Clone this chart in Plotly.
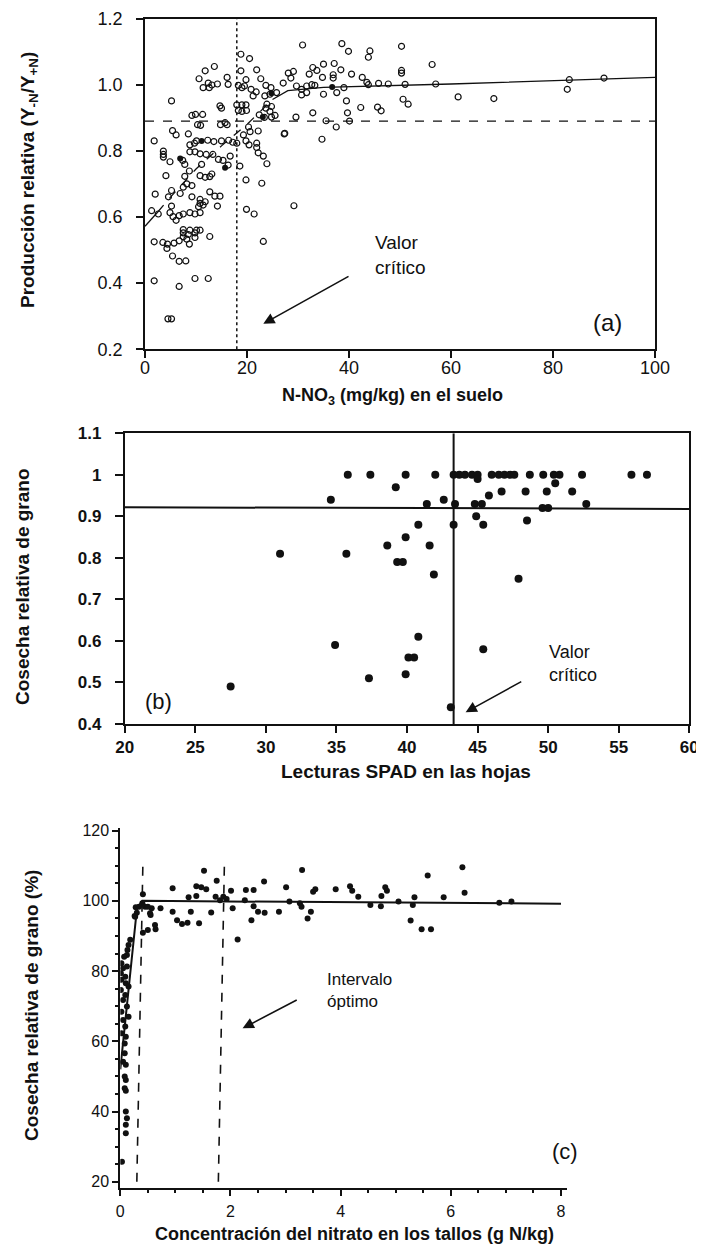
import plotly.graph_objects as go

# ---------------- Panel (a) data ----------------
a_open_x = [30.9, 38.6, 39.9, 44.1, 43.8, 50.3, 50.3, 50.3, 56.3, 35.0, 37.1, 32.9, 33.7, 32.2, 34.8, 36.9, 36.9, 38.4,
            40.5, 42.6, 32.7, 33.3, 39.0, 43.5, 43.8, 45.8, 47.7, 51.0, 57.0, 30.7, 31.7, 35.0, 37.6, 39.5, 42.3, 45.6,
            46.3, 50.6, 51.6, 61.4, 68.4, 32.9, 39.7, 35.5, 40.1, 37.5, 83.2, 82.8, 90.0, 34.7, 27.4, 29.2, 23.2, 22.9,
            19.9, 21.4, 23.9,
            18.8, 20.5, 13.6, 11.8, 18.8, 21.9, 10.6, 16.1, 19.8, 22.7, 12.4, 13.1, 14.2, 11.4, 12.6, 16.3, 18.3, 19.0,
            19.5, 20.8, 21.2, 21.8, 23.7, 24.7, 25.8, 24.5, 23.5, 27.1, 28.1, 29.1, 28.6, 29.7, 30.7, 31.7, 5.2, 14.7,
            15.0, 18.0, 19.0, 19.8, 18.3, 19.0, 19.9, 23.9, 24.8, 23.7, 24.5, 25.5, 22.4, 23.4, 24.8, 29.6, 27.3, 9.2,
            9.9, 11.3, 15.7, 16.1, 14.8, 10.3, 10.9, 20.3, 20.6, 19.3, 22.2, 5.4, 6.1, 8.5, 1.8, 10.1, 12.3, 13.5,
            15.0, 16.4, 17.2, 8.8, 9.7, 18.0, 19.8, 20.4, 21.9,
            3.6, 3.6, 3.6, 4.9, 8.8, 9.8, 10.8, 12.0, 13.3, 14.4, 15.3, 16.7, 7.4, 7.8, 16.3, 21.9, 22.2, 23.2, 18.6,
            11.1, 4.1, 7.8, 8.7, 10.8, 11.8, 12.7, 13.1, 19.8, 8.2, 7.5, 9.2, 6.9, 5.2, 4.6, 2.0, 9.2, 10.8, 11.8,
            12.7, 13.7, 14.7, 14.2, 10.8, 11.4, 10.5, 8.8, 9.8, 10.8, 7.5, 6.7, 5.5, 6.1, 4.9, 5.2, 1.3, 2.6, 7.5,
            7.5, 8.8, 10.1, 10.8, 9.8, 8.5, 9.8, 7.5, 12.7, 1.8, 3.5, 4.4, 5.7, 6.7, 8.2, 8.7, 4.3, 5.4, 6.7, 8.0,
            1.8, 9.8, 12.4, 6.7, 4.5, 5.2]
a_open_y = [1.120, 1.124, 1.101, 1.102, 1.083, 1.116, 1.043, 1.035, 1.061, 1.062, 1.064, 1.052, 1.043, 1.032, 1.022,
            1.030, 1.020, 1.045, 1.032, 1.022, 1.000, 0.998, 0.991, 1.007, 1.000, 1.004, 1.002, 1.001, 1.002, 0.969,
            0.976, 0.971, 0.976, 0.951, 0.931, 0.932, 0.921, 0.956, 0.941, 0.963, 0.958, 0.915, 0.915, 0.891, 0.890,
            0.872, 1.015, 0.986, 1.020, 0.835, 0.853, 0.634, 0.526, 0.702, 0.623, 0.609, 0.761,
            1.092, 1.079, 1.055, 1.042, 1.042, 1.045, 1.018, 1.022, 1.015, 1.018, 1.005, 0.999, 1.002, 0.991, 0.991,
            1.001, 0.998, 0.991, 0.996, 0.986, 0.966, 0.978, 0.998, 0.991, 0.976, 0.971, 0.966, 1.005, 1.035, 1.040,
            1.020, 0.996, 0.986, 0.996, 0.951, 0.936, 0.929, 0.939, 0.939, 0.939, 0.922, 0.919, 0.922, 0.941, 0.934,
            0.929, 0.919, 0.907, 0.909, 0.901, 0.902, 0.902, 0.851, 0.907, 0.910, 0.910, 0.885, 0.879, 0.879, 0.879,
            0.877, 0.872, 0.858, 0.848, 0.860, 0.861, 0.848, 0.851, 0.830, 0.830, 0.832, 0.828, 0.830, 0.832, 0.826,
            0.818, 0.823, 0.823, 0.830, 0.818, 0.823,
            0.799, 0.789, 0.781, 0.767, 0.797, 0.797, 0.791, 0.789, 0.789, 0.774, 0.771, 0.784, 0.771, 0.759, 0.757,
            0.810, 0.794, 0.784, 0.754, 0.759, 0.725, 0.723, 0.739, 0.725, 0.720, 0.722, 0.730, 0.712, 0.700, 0.690,
            0.695, 0.671, 0.680, 0.661, 0.669, 0.661, 0.653, 0.646, 0.676, 0.663, 0.663, 0.633, 0.641, 0.636, 0.631,
            0.613, 0.609, 0.613, 0.609, 0.604, 0.601, 0.590, 0.613, 0.633, 0.619, 0.609, 0.562, 0.552, 0.560, 0.560,
            0.560, 0.552, 0.547, 0.538, 0.540, 0.541, 0.525, 0.523, 0.518, 0.521, 0.528, 0.533, 0.518, 0.505, 0.482,
            0.466, 0.467, 0.407, 0.414, 0.414, 0.390, 0.292, 0.292]
a_fill_x = [6.9, 11.1, 15.7, 23.1, 24.8, 36.7]
a_fill_y = [0.777, 0.830, 0.749, 0.902, 0.974, 0.993]
a_fit1_x = [0, 2.5]
a_fit1_y = [0.572, 0.615]
a_fit2_x = [2.5, 5, 10, 15, 20, 25]
a_fit2_y = [0.615, 0.66, 0.745, 0.815, 0.88, 0.955]
a_fit3_x = [25, 28, 35, 60, 100]
a_fit3_y = [0.955, 0.982, 0.992, 1.002, 1.022]
a_crit_x = 18.0
a_crit_y = 0.89

# ---------------- Panel (b) data ----------------
b_x = [27.5, 31.0, 34.6, 35.8, 37.4, 34.9, 35.7, 37.3, 38.6, 39.2, 39.3, 39.7, 39.9, 39.9, 39.9, 40.1, 40.5, 40.8,
       40.8, 41.4, 41.6, 41.9, 42.0, 42.6, 43.1, 43.3, 43.4, 43.3, 43.7, 44.1, 44.6, 45.0, 45.0, 44.8, 45.3, 44.9,
       45.4, 45.4, 45.8, 46.0, 46.5, 46.9, 47.3, 47.6, 46.7, 47.9, 48.4, 48.5, 48.7, 49.65, 49.6, 50.0, 49.9, 50.4,
       50.8, 50.5, 51.7, 52.4, 52.7, 55.9, 57.0]
b_y = [0.49, 0.81, 0.94, 1.0, 1.0, 0.59, 0.81, 0.51, 0.83, 0.97, 0.79, 0.79, 1.0, 0.85, 0.52, 0.56, 0.56, 0.88,
       0.61, 0.93, 0.83, 0.76, 1.0, 0.94, 0.44, 0.88, 0.93, 1.0, 1.0, 1.0, 1.0, 1.0, 0.99, 0.93, 0.93, 0.90,
       0.88, 0.58, 0.95, 1.0, 1.0, 1.0, 1.0, 1.0, 0.96, 0.75, 0.96, 0.89, 1.0, 1.0, 0.92, 0.92, 0.96, 1.0,
       1.0, 0.98, 0.96, 1.0, 0.93, 1.0, 1.0]
b_hline_x = [20, 60]
b_hline_y = [0.922, 0.918]
b_crit_x = 43.3

# ---------------- Panel (c) data ----------------
c_x = [0.41, 0.40, 0.34, 0.45, 0.57, 0.55, 0.41, 0.50, 0.63, 0.64, 0.73, 0.95, 0.95, 1.03, 1.12, 1.22, 1.28, 1.24,
       1.38, 1.38, 1.43, 1.52, 1.56, 1.47, 1.65, 1.75, 1.73, 1.81, 1.87, 1.93, 2.01, 2.04, 2.13, 2.26, 2.28, 2.42,
       2.38, 2.42, 2.50, 2.62, 2.61, 2.88, 3.01, 3.07, 3.26, 3.29, 3.30, 3.40, 3.46, 3.50, 3.54, 3.91, 4.17, 4.21,
       4.32, 4.54, 4.73, 4.74, 4.81, 4.84, 5.05, 5.27, 5.31, 5.34, 5.47, 5.64, 5.58, 5.87, 6.21, 6.25, 6.88, 7.10,
       0.50, 0.54, 0.28, 0.30, 0.27, 0.26, 0.18, 0.15, 0.13, 0.12, 0.07, 0.02, 0.05, 0.12, 0.01, 0.09,
       0.02, 0.10, 0.15, 0.01, 0.09, 0.05, 0.12, 0.02, 0.15, 0.05, 0.09, 0.02, 0.10, 0.08, 0.08, 0.05, 0.10,
       0.08, 0.10, 0.08, 0.10, 0.10, 0.12, 0.10, 0.10, 0.03]
c_y = [101.9, 99.3, 98.3, 98.3, 97.9, 96.0, 90.9, 91.7, 93.1, 91.9, 97.9, 103.6, 96.9, 94.5, 93.4, 93.8, 96.9, 101.0,
       101.4, 104.2, 93.6, 108.6, 103.3, 103.9, 96.7, 105.7, 101.2, 100.2, 101.2, 100.5, 102.9, 97.9, 89.0, 100.2,
       103.1, 103.1, 94.5, 98.5, 96.9, 96.6, 105.5, 96.9, 103.9, 99.8, 99.3, 98.3, 108.8, 95.0, 96.9, 102.6, 103.3,
       103.3, 104.2, 102.9, 101.2, 98.8, 98.5, 101.4, 103.9, 102.9, 99.8, 94.4, 98.8, 101.0, 91.9, 91.9, 107.2,
       101.0, 109.6, 102.3, 99.5, 99.8,
       98.3, 96.5, 98.2, 96.6, 95.5, 95.7, 88.9, 87.4, 86.0, 84.6, 84.1, 82.2, 80.8, 81.3, 79.4, 78.4,
       77.5, 76.5, 75.6, 74.6, 73.2, 71.8, 69.9, 68.4, 67.0, 66.1, 64.2, 62.3, 61.3, 59.4, 56.6, 54.2, 53.3,
       50.0, 49.0, 46.6, 45.9, 40.0, 38.1, 36.2, 33.8, 25.7]
c_fit_x = [0, 0.3, 0.4, 8.0]
c_fit_y = [52, 97.5, 100, 99.2]
c_low_x = [0.30, 0.41]
c_high_x = [1.78, 1.89]
c_dash_y = [20, 110.7]

INK = "#111111"
SANS = "Liberation Sans, Arial, Helvetica, sans-serif"
NARROW = "Liberation Sans Narrow, Arial Narrow, Liberation Sans, sans-serif"

# The page body has an 8 px margin; the figure fills the rest of the window.
OFF = 8
W, H = 704 - OFF, 1247 - OFF


def px(xp):
    return (xp - OFF) / W


def py(yp):
    return 1 - (yp - OFF) / H


fig = go.Figure()

# Panel (a)
fig.add_trace(go.Scatter(x=a_open_x, y=a_open_y, mode="markers", xaxis="x", yaxis="y",
                         marker=dict(symbol="circle-open", size=6, color=INK, line=dict(width=1.2, color=INK)),
                         showlegend=False))
fig.add_trace(go.Scatter(x=a_fill_x, y=a_fill_y, mode="markers", xaxis="x", yaxis="y",
                         marker=dict(symbol="circle", size=6, color=INK), showlegend=False))
fig.add_trace(go.Scatter(x=a_fit1_x, y=a_fit1_y, mode="lines", xaxis="x", yaxis="y",
                         line=dict(color=INK, width=1.3), showlegend=False))
fig.add_trace(go.Scatter(x=a_fit2_x, y=a_fit2_y, mode="lines", xaxis="x", yaxis="y",
                         line=dict(color=INK, width=1.3, dash="dash"), showlegend=False))
fig.add_trace(go.Scatter(x=a_fit3_x, y=a_fit3_y, mode="lines", xaxis="x", yaxis="y",
                         line=dict(color=INK, width=1.3), showlegend=False))
fig.add_trace(go.Scatter(x=[a_crit_x, a_crit_x], y=[0.2, 1.2], mode="lines", xaxis="x", yaxis="y",
                         line=dict(color=INK, width=1.5, dash="dot"), showlegend=False))
fig.add_trace(go.Scatter(x=[0, 100], y=[a_crit_y, a_crit_y], mode="lines", xaxis="x", yaxis="y",
                         line=dict(color=INK, width=1.3, dash="dash"), showlegend=False))

# Panel (b)
fig.add_trace(go.Scatter(x=b_x, y=b_y, mode="markers", xaxis="x2", yaxis="y2",
                         marker=dict(symbol="circle", size=8, color=INK), showlegend=False))
fig.add_trace(go.Scatter(x=b_hline_x, y=b_hline_y, mode="lines", xaxis="x2", yaxis="y2",
                         line=dict(color=INK, width=2), showlegend=False))
fig.add_trace(go.Scatter(x=[b_crit_x, b_crit_x], y=[0.4, 1.1], mode="lines", xaxis="x2", yaxis="y2",
                         line=dict(color=INK, width=2), showlegend=False))

# Panel (c)
fig.add_trace(go.Scatter(x=c_x, y=c_y, mode="markers", xaxis="x3", yaxis="y3",
                         marker=dict(symbol="circle", size=6, color=INK), showlegend=False))
fig.add_trace(go.Scatter(x=c_fit_x, y=c_fit_y, mode="lines", xaxis="x3", yaxis="y3",
                         line=dict(color=INK, width=2), showlegend=False))
fig.add_trace(go.Scatter(x=c_low_x, y=c_dash_y, mode="lines", xaxis="x3", yaxis="y3",
                         line=dict(color=INK, width=1.6, dash="dash"), showlegend=False))
fig.add_trace(go.Scatter(x=c_high_x, y=c_dash_y, mode="lines", xaxis="x3", yaxis="y3",
                         line=dict(color=INK, width=1.6, dash="dash"), showlegend=False))


def ax_common(**kw):
    d = dict(showgrid=False, zeroline=False, showline=True, linecolor=INK, ticks="outside",
             tickcolor=INK, color=INK, automargin=False, ticklabeloverflow="allow")
    d.update(kw)
    return d


fig.update_layout(
    width=W, height=H, margin=dict(l=0, r=0, t=0, b=0, autoexpand=False),
    paper_bgcolor="white", plot_bgcolor="white",
    xaxis=ax_common(domain=[px(145), px(655)], range=[0, 100], tickvals=[0, 20, 40, 60, 80, 100],
                    mirror=True, linewidth=1.6, ticklen=7, tickwidth=1.5, ticklabelstandoff=-6,
                    tickfont=dict(family=SANS, size=18, color=INK), anchor="y"),
    yaxis=ax_common(domain=[py(349.3), py(18.5)], range=[0.1999, 1.2001],
                    tickvals=[0.2, 0.4, 0.6, 0.8, 1.0, 1.2], ticktext=["0.2", "0.4", "0.6", "0.8", "1.0", "1.2"],
                    mirror=True, linewidth=1.6, ticklen=7, tickwidth=1.5, ticklabelstandoff=10,
                    tickfont=dict(family=SANS, size=18, color=INK), anchor="x"),
    xaxis2=ax_common(domain=[px(124.8), px(689.3)], range=[20, 60], tickvals=[20, 25, 30, 35, 40, 45, 50, 55, 60],
                     mirror=True, linewidth=2, ticklen=7, tickwidth=1.5, ticklabelstandoff=0,
                     tickfont=dict(family=SANS, size=17, color=INK, weight="bold"), anchor="y2"),
    yaxis2=ax_common(domain=[py(724), py(433.3)], range=[0.3999, 1.1001],
                     tickvals=[0.4, 0.5, 0.6, 0.7, 0.8, 0.9, 1.0, 1.1],
                     ticktext=["0.4", "0.5", "0.6", "0.7", "0.8", "0.9", "1", "1.1"],
                     mirror=True, linewidth=2, ticklen=8, tickwidth=1.5, ticklabelstandoff=10,
                     tickfont=dict(family=SANS, size=17, color=INK, weight="bold"), anchor="x2"),
    xaxis3=ax_common(domain=[px(120.3), px(566.5)], range=[0, 8.1], tickvals=[0, 2, 4, 6, 8],
                     linewidth=2, ticklen=6, tickwidth=1.5, ticklabelstandoff=2,
                     minor=dict(dtick=0.5, ticks="outside", ticklen=3, tickcolor=INK),
                     tickfont=dict(family=SANS, size=16, color=INK), anchor="y3"),
    yaxis3=ax_common(domain=[py(1187.7), py(828.2)], range=[18.3, 120.7],
                     tickvals=[20, 40, 60, 80, 100, 120], linewidth=2, ticklen=6, tickwidth=1.5,
                     minor=dict(dtick=5, ticks="outside", ticklen=3, tickcolor=INK),
                     tickfont=dict(family=SANS, size=16, color=INK), anchor="x3"),
)


def note(text, x, y, size, family=SANS, angle=0, xref="paper", yref="paper", xanchor="center", align="center"):
    return dict(text=text, x=x, y=y, xref=xref, yref=yref, showarrow=False, textangle=angle,
                xanchor=xanchor, yanchor="middle", align=align, font=dict(family=family, size=size, color=INK))


ann = []
# Axis titles
ann.append(note("<b>N-NO<sub>3</sub> (mg/kg) en el suelo</b>", px(393), py(397), 18))
ann.append(note("<b>Producción relativa (Y<sub>-N</sub>/Y<sub>+N</sub>)</b>", px(29), py(180), 19,
                family=NARROW, angle=-90))
ann.append(note("<b>Lecturas SPAD en las hojas</b>", px(406), py(771), 19))
ann.append(note("<b>Cosecha relativa de grano</b>", px(22), py(587), 19, family=NARROW, angle=-90))
ann.append(note("<b>Concentración del nitrato en los tallos (g N/kg)</b>", px(354), py(1234), 18))
ann.append(note("<b>Cosecha relativa de grano (%)</b>", px(31), py(1006), 19, family=NARROW, angle=-90))

# Panel labels
ann.append(note("(a)", 90.6, 0.282, 24, xref="x", yref="y"))
ann.append(note("(b)", 22.4, 0.454, 22, xref="x2", yref="y2"))
ann.append(note("(c)", px(565), py(1151.7), 22))

# Callouts
ann.append(note("Valor<br>crítico", 44.8, 0.484, 19, xref="x", yref="y", xanchor="left", align="left"))
ann.append(dict(text="", x=23.2, y=0.277, ax=40.2, ay=0.423, xref="x", yref="y", axref="x", ayref="y",
                showarrow=True, arrowhead=2, arrowsize=1.4, arrowwidth=1.6, arrowcolor=INK))
ann.append(note("Valor<br>crítico", 49.9, 0.546, 18, xref="x2", yref="y2", xanchor="left", align="left"))
ann.append(dict(text="", x=44.15, y=0.428, ax=48.2, ay=0.504, xref="x2", yref="y2", axref="x2", ayref="y2",
                showarrow=True, arrowhead=2, arrowsize=1.4, arrowwidth=1.6, arrowcolor=INK))
ann.append(note("Intervalo<br>óptimo", 3.72, 74.6, 17, xref="x3", yref="y3", xanchor="left", align="left"))
ann.append(dict(text="", x=2.22, y=63.7, ax=3.23, ay=72.0, xref="x3", yref="y3", axref="x3", ayref="y3",
                showarrow=True, arrowhead=2, arrowsize=1.4, arrowwidth=1.6, arrowcolor=INK))

fig.update_layout(annotations=ann)
fig.write_html("out.html")
